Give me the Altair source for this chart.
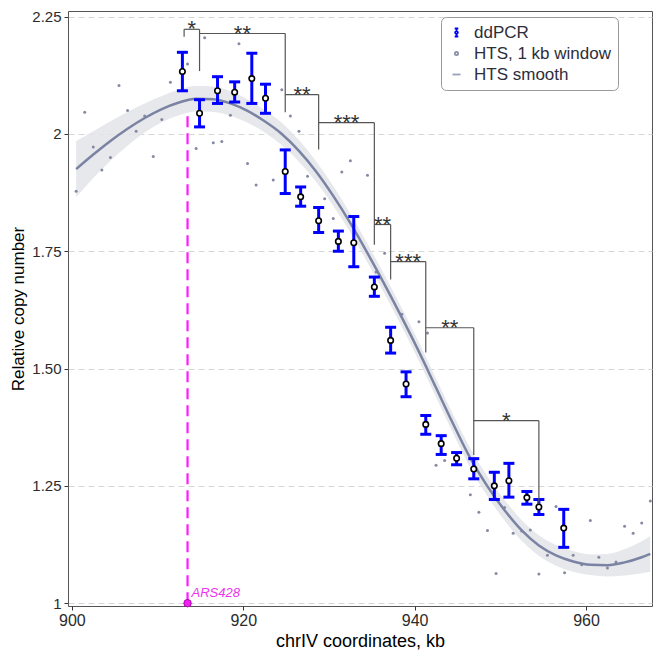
import altair as alt
import pandas as pd

# ddPCR measurements: position (kb), mean and error bar limits
dd_x = [912.9, 914.9, 917.0, 919.0, 921.0, 922.6, 924.9, 926.7, 928.8, 931.1, 932.9, 935.3,
        937.2, 939.0, 941.3, 943.1, 944.9, 946.9, 949.3, 951.0, 953.1, 954.5, 957.4]
dd_y = [2.133, 2.044, 2.092, 2.089, 2.118, 2.076, 1.920, 1.866, 1.815, 1.771, 1.768, 1.674,
        1.560, 1.467, 1.381, 1.340, 1.309, 1.286, 1.250, 1.261, 1.225, 1.205, 1.160]
dd_lo = [2.092, 2.015, 2.065, 2.068, 2.065, 2.044, 1.873, 1.846, 1.790, 1.750, 1.717, 1.654,
         1.533, 1.440, 1.360, 1.317, 1.295, 1.265, 1.221, 1.226, 1.211, 1.189, 1.119]
dd_hi = [2.174, 2.073, 2.122, 2.111, 2.172, 2.106, 1.966, 1.887, 1.843, 1.793, 1.824, 1.695,
         1.588, 1.493, 1.400, 1.357, 1.321, 1.308, 1.279, 1.298, 1.238, 1.221, 1.200]

# HTS, 1 kb windows
hts_x = [900.5, 901.5, 902.5, 903.5, 904.5, 905.5, 906.5, 907.5, 908.5, 909.5, 910.5, 911.5,
         913.5, 914.5, 915.5, 916.5, 917.5, 918.5, 919.5, 920.5, 921.5,
         923.5, 924.5, 925.5, 926.5, 927.5,
         929.5, 930.5, 931.5, 932.5,
         934.5, 935.5, 936.5, 938.5,
         940.5, 941.5, 942.5, 943.5,
         946.5, 947.5, 948.5, 949.5, 950.5, 951.5, 952.5, 953.5, 954.5, 955.5, 956.5,
         957.5, 958.5, 959.5, 960.5, 961.5, 962.5, 963.5, 964.5, 965.5, 966.5, 967.5]
hts_y = [1.878, 2.046, 1.972, 1.923, 1.950, 2.103, 2.050, 2.006, 2.038, 1.952, 2.031, 2.110,
         2.149, 1.969, 2.205, 1.981, 1.984, 2.040, 2.192, 1.937, 1.891,
         1.902, 2.094, 2.038, 2.006, 1.910,
         1.862, 1.820, 1.919, 1.943,
         1.912, 1.706, 1.746, 1.616,
         1.600, 1.576, 1.294, 1.304,
         1.231, 1.194, 1.155, 1.063, 1.204, 1.149, 1.154, 1.156, 1.062, 1.102, 1.206,
         1.065, 1.102, 1.082, 1.176, 1.098, 1.075, 1.088, 1.164, 1.149, 1.171, 1.218]

# HTS smooth fit and half-width of its confidence band
sm_x = [900.5, 902.5, 904.5, 906.5, 908.5, 910.5, 912.5, 914.5, 916.5, 918.5, 920.5, 922.5,
        924.5, 926.5, 928.5, 930.5, 932.5, 934.5, 936.5, 938.5, 940.5, 942.5, 944.5, 946.5,
        948.5, 950.5, 952.5, 954.5, 956.5, 958.5, 960.5, 962.5, 964.5, 966.5, 967.5]
sm_y = [1.925, 1.956, 1.985, 2.011, 2.034, 2.053, 2.067, 2.075, 2.074, 2.065, 2.049, 2.027,
        2.000, 1.964, 1.920, 1.868, 1.810, 1.746, 1.679, 1.609, 1.536, 1.459, 1.382, 1.309,
        1.249, 1.198, 1.155, 1.123, 1.102, 1.089, 1.082, 1.081, 1.087, 1.098, 1.105]
sm_se = [0.060, 0.050, 0.042, 0.036, 0.031, 0.028, 0.027, 0.027, 0.027, 0.026, 0.025, 0.024,
         0.024, 0.023, 0.022, 0.021, 0.020, 0.020, 0.020, 0.020, 0.020, 0.020, 0.020, 0.021,
         0.021, 0.022, 0.022, 0.022, 0.022, 0.022, 0.022, 0.024, 0.028, 0.034, 0.038]

# significance brackets between ddPCR points
br_x1 = [913.1, 914.9, 924.9, 928.8, 935.3, 937.2, 941.3, 946.9]
br_x2 = [914.9, 924.9, 928.8, 935.3, 937.2, 941.3, 946.9, 954.5]
br_top = [2.223, 2.214, 2.084, 2.024, 1.807, 1.728, 1.587, 1.389]
br_left_end = [2.207, 2.214, 2.084, 2.024, 1.807, 1.728, 1.587, 1.389]
br_right_end = [2.134, 2.046, 1.967, 1.764, 1.690, 1.534, 1.316, 1.212]
br_label = ["*", "**", "**", "***", "**", "***", "**", "*"]

# replication origin
ars_x = [913.5]
ars_y0 = [1.0]
ars_y1 = [2.045]
ars_name = ["ARS428"]

y_ticks = [1, 1.25, 1.5, 1.75, 2, 2.25]
x_ticks = [900, 920, 940, 960]

legend_names = ["ddPCR", "HTS, 1 kb window", "HTS smooth"]
legend_colors = ["#0000ff", "#8a8fa6", "#9aa1bd"]
legend_shapes = [
    "M-0.45,-1H0.45M0,-1V-0.34M0,0.34V1M-0.45,1H0.45"
    "M-0.34,0a0.34,0.34 0 1,0 0.68,0a0.34,0.34 0 1,0 -0.68,0",
    "M-0.4,0a0.4,0.4 0 1,0 0.8,0a0.4,0.4 0 1,0 -0.8,0",
    "M-1,0H1",
]

dd = pd.DataFrame({"x": dd_x, "y": dd_y, "lo": dd_lo, "hi": dd_hi})
hts = pd.DataFrame({"x": hts_x, "y": hts_y})
sm = pd.DataFrame({"x": sm_x, "y": sm_y, "se": sm_se})
sm["lo"] = sm["y"] - sm["se"]
sm["hi"] = sm["y"] + sm["se"]
br = pd.DataFrame({"x1": br_x1, "x2": br_x2, "top": br_top, "lend": br_left_end,
                   "rend": br_right_end, "label": br_label})
ars = pd.DataFrame({"x": ars_x, "y0": ars_y0, "y1": ars_y1, "name": ars_name})
leg = pd.DataFrame({"series": legend_names})

x_scale = alt.Scale(domain=[899.55, 967.7], nice=False, zero=False)
y_scale = alt.Scale(domain=[0.994, 2.262], nice=False, zero=False)

x_enc = alt.X("x:Q", scale=x_scale, title="chrIV coordinates, kb",
              axis=alt.Axis(values=x_ticks, grid=False, domain=False, tickSize=4,
                            tickColor="#333333", labelFontSize=16, labelColor="#2b2b2b",
                            labelPadding=2, titleFontSize=18, titleFontWeight="normal",
                            titleColor="black", titlePadding=4))
y_axis = alt.Axis(values=y_ticks, domain=False, tickSize=4, tickColor="#333333",
                  labelExpr="datum.value == 1 ? '1' : datum.value == 2 ? '2' : format(datum.value, '.2f')",
                  labelFontSize=15, labelColor="#2b2b2b", labelPadding=3,
                  grid=True, gridDash=[6, 4], gridColor="#d6d6d6", gridWidth=1,
                  titleFontSize=17, titleFontWeight="normal", titleColor="black", titlePadding=4)

band = alt.Chart(sm).mark_area(color="#e3e4e9", opacity=0.85, interpolate="monotone").encode(
    x=x_enc,
    y=alt.Y("lo:Q", scale=y_scale, axis=y_axis, title="Relative copy number"),
    y2="hi:Q",
)

hts_pts = alt.Chart(hts).mark_circle(size=9, color="#858aa2", opacity=1).encode(
    x="x:Q", y="y:Q"
)

smooth = alt.Chart(sm).mark_line(color="#7b83a3", strokeWidth=2.5, interpolate="monotone").encode(
    x="x:Q", y="y:Q"
)

ars_line = alt.Chart(ars).mark_rule(color="#ff1aff", strokeWidth=2.2, strokeDash=[11, 6]).encode(
    x="x:Q", y="y0:Q", y2="y1:Q"
)

err = alt.Chart(dd).mark_rule(color="#0000ff", strokeWidth=3).encode(
    x="x:Q", y="lo:Q", y2="hi:Q"
)
cap_lo = alt.Chart(dd).mark_tick(color="#0000ff", orient="horizontal", size=11,
                                 thickness=3, opacity=1).encode(x="x:Q", y="lo:Q")
cap_hi = alt.Chart(dd).mark_tick(color="#0000ff", orient="horizontal", size=11,
                                 thickness=3, opacity=1).encode(x="x:Q", y="hi:Q")
dd_pts = alt.Chart(dd).mark_point(shape="circle", size=30, filled=True, fill="white",
                                  stroke="black", strokeWidth=1.6, opacity=1).encode(
    x="x:Q", y="y:Q"
)

br_h = alt.Chart(br).mark_rule(color="#555555", strokeWidth=1.2).encode(
    x="x1:Q", x2="x2:Q", y="top:Q"
)
br_l = alt.Chart(br).mark_rule(color="#555555", strokeWidth=1.2).encode(
    x="x1:Q", y="top:Q", y2="lend:Q"
)
br_r = alt.Chart(br).mark_rule(color="#555555", strokeWidth=1.2).encode(
    x="x2:Q", y="top:Q", y2="rend:Q"
)
stars = alt.Chart(br).transform_calculate(
    mid="(datum.x1 + datum.x2) / 2"
).mark_text(fontSize=22, color="#333333", baseline="alphabetic", dy=7).encode(
    x="mid:Q", y="top:Q", text="label:N"
)

ars_dot = alt.Chart(ars).mark_point(shape="circle", size=55, filled=True, fill="#ee22ee",
                                    stroke="#b000b0", strokeWidth=1, opacity=1).encode(
    x="x:Q", y="y0:Q"
)
ars_text = alt.Chart(ars).mark_text(fontSize=13, fontStyle="italic", color="#ee33ee",
                                    align="left", baseline="alphabetic", dx=4, dy=-6).encode(
    x="x:Q", y="y0:Q", text="name:N"
)

legend_layer = alt.Chart(leg).mark_point(opacity=0, filled=False).encode(
    color=alt.Color("series:N", scale=alt.Scale(domain=legend_names, range=legend_colors),
                    legend=alt.Legend(title=None)),
    shape=alt.Shape("series:N", scale=alt.Scale(domain=legend_names, range=legend_shapes),
                    legend=alt.Legend(title=None)),
)

chart = alt.layer(
    band, hts_pts, smooth, ars_line, err, cap_lo, cap_hi, dd_pts,
    br_h, br_l, br_r, stars, ars_dot, ars_text, legend_layer
).properties(
    width=584, height=595,
    autosize=alt.AutoSizeParams(type="none"),
    padding={"left": 60, "top": 3, "right": 1, "bottom": 47},
).configure(
    font="Liberation Sans"
).configure_view(
    stroke="#555555", strokeWidth=1
).configure_legend(
    orient="none", legendX=373, legendY=6, padding=7, strokeColor="#9a9a9a",
    fillColor="white", cornerRadius=5, labelFontSize=17, labelColor="#2e2e3a",
    symbolSize=64, symbolStrokeWidth=1.8, symbolOpacity=1, rowPadding=3, labelOffset=9
)

chart.save("out.html", embed_options={"renderer": "svg", "actions": False})
